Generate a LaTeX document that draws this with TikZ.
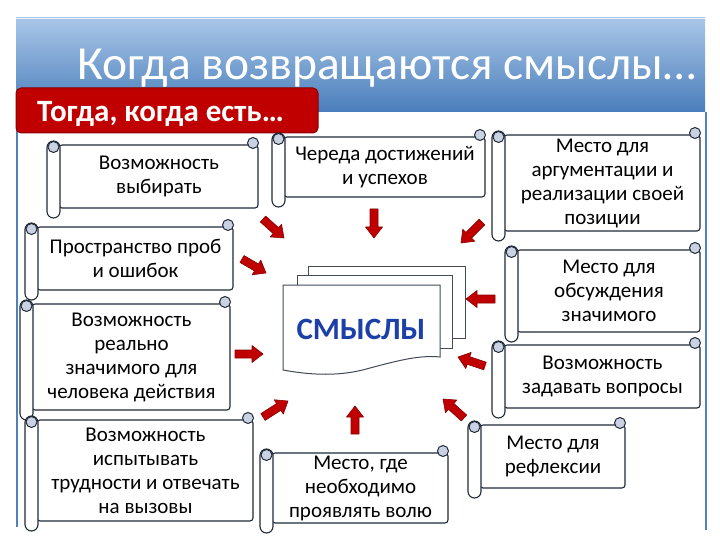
\documentclass[tikz,border=0pt]{standalone}
\usepackage{fontspec}
\setmainfont{Carlito}
\usetikzlibrary{calc}
\definecolor{bandtop}{HTML}{A9C6E8}
\definecolor{bandbot}{HTML}{4A7EBB}
\definecolor{frameblue}{HTML}{4F81BD}
\definecolor{redbox}{HTML}{C00000}
\definecolor{redborder}{HTML}{8B0000}
\definecolor{curlfill}{HTML}{C9D1E3}
\definecolor{outline}{HTML}{1F2A38}
\definecolor{smblue}{HTML}{1C3FA8}
\tikzset{
 scrollline/.style={draw=outline, line width=1.1pt, fill=white},
 curlstyle/.style={draw=outline, line width=1pt, fill=curlfill},
 scrolltext/.style={align=center, font=\fontsize{21}{24}\selectfont, text=black, inner sep=0pt},
 arrowshape/.style={fill=redbox, draw=redborder, line width=0.6pt, line join=round},
 pagestyle/.style={draw=outline!85, line width=1pt, fill=white},
}
\newcommand\scrollbox[6]{%
 \draw[scrollline, rounded corners=3pt] ({#2+12},#3) rectangle (#4,#5);
 \draw[scrollline, rounded corners=6.5pt] (#2,{#3-4}) rectangle ({#2+13},{#5+10});
 \draw[curlstyle] ({#2+6.5},{#3+2}) circle[radius=5.5pt];
 \draw[curlstyle] ({#4-5},{#3-2}) circle[radius=5.5pt];
 \node[scrolltext] (#1) at ({(#2+13+#4)/2},{(#3+#5)/2}) {#6};
}
\newcommand\blockarrow[4]{%
 \pgfmathsetmacro\bdx{#3-#1}%
 \pgfmathsetmacro\bdy{#4-#2}%
 \pgfmathsetmacro\blen{veclen(\bdx,\bdy)}%
 \pgfmathsetmacro\bux{\bdx/\blen}%
 \pgfmathsetmacro\buy{\bdy/\blen}%
 \pgfmathsetmacro\bnx{#3-11*(\bux)}%
 \pgfmathsetmacro\bny{#4-11*(\buy)}%
 \filldraw[arrowshape] ({#1-4*(\buy)},{#2+4*(\bux)}) -- ({\bnx-4*(\buy)},{\bny+4*(\bux)}) -- ({\bnx-8.5*(\buy)},{\bny+8.5*(\bux)}) -- (#3,#4) -- ({\bnx+8.5*(\buy)},{\bny-8.5*(\bux)}) -- ({\bnx+4*(\buy)},{\bny-4*(\bux)}) -- ({#1+4*(\buy)},{#2-4*(\bux)}) -- cycle;
}
\begin{document}
\begin{tikzpicture}[x=1pt,y=-1pt]
\fill[white] (0,0) rectangle (720,540);
\useasboundingbox (0,0) rectangle (720,540);
% title band
\shade[top color=bandtop, bottom color=bandbot] (16,18) rectangle (705,112);
\draw[white!70!bandtop, line width=1pt] (16,18.5) -- (705,18.5);
\node[font=\fontsize{47.5}{50}\selectfont, text=white, anchor=base west, inner sep=0pt] (title) at (77,80) {Когда возвращаются смыслы…};
% frame lines
\draw[frameblue, line width=2pt] (17,112) -- (17,527);
\draw[frameblue, line width=2pt] (706,112) -- (706,530);
% red label
\draw[fill=redbox, draw=redborder, line width=1pt, rounded corners=5pt] (16,88) rectangle (318,133);
\node[font=\bfseries\fontsize{31}{33}\selectfont, text=white, anchor=base west, inner sep=0pt] (label) at (37,122) {Тогда, когда есть…};
% scrolls
\scrollbox{b1}{47}{145}{258}{208}{Возможность\\выбирать}
\scrollbox{b2}{25}{227}{233}{290}{Пространство проб\\и ошибок}
\scrollbox{b3}{20}{304}{230}{410}{Возможность\\реально\\значимого для\\человека действия}
\scrollbox{b4}{25}{420}{253}{521}{Возможность\\испытывать\\трудности и отвечать\\на вызовы}
\scrollbox{b5}{272}{137}{485}{197}{Череда достижений\\и успехов}
\scrollbox{b6}{492}{135}{700}{231}{Место для\\аргументации и\\реализации своей\\позиции}
\scrollbox{b7}{505}{250}{700}{332}{Место для\\обсуждения\\значимого}
\scrollbox{b8}{492}{345}{700}{408}{Возможность\\задавать вопросы}
\scrollbox{b9}{468}{425}{625}{488}{Место для\\рефлексии}
\scrollbox{b10}{260}{453}{448}{523}{Место, где\\необходимо\\проявлять волю}
% document stack
\draw[pagestyle] (308,266) rectangle (465,338);
\draw[pagestyle] (297,275) rectangle (452,348);
\draw[pagestyle] (283,285) -- (440,285) -- (440,357) .. controls (420,355) and (400,360) .. (370,368) .. controls (340,377) and (310,375) .. (283,370) -- cycle;
\node[font=\bfseries\fontsize{31}{31}\selectfont, text=smblue] (smysly) at (361,329) {СМЫСЛЫ};
% arrows
\blockarrow{263}{219}{284}{238}
\blockarrow{242}{259}{266}{273}
\blockarrow{374}{209}{374}{238}
\blockarrow{482}{222}{461}{243}
\blockarrow{495}{299}{466}{299}
\blockarrow{485}{366}{458}{357}
\blockarrow{235}{354}{263}{354}
\blockarrow{464}{418}{443}{399}
\blockarrow{355}{434}{355}{406}
\blockarrow{263}{417}{288}{401}
\end{tikzpicture}
\end{document}
